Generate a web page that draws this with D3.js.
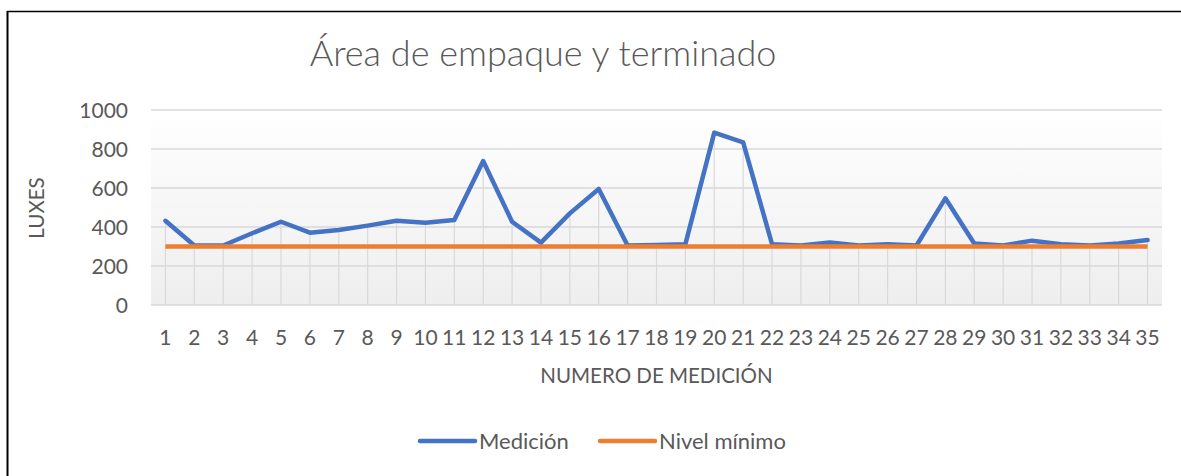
<!DOCTYPE html>
<html>
<head>
<meta charset="utf-8">
<script src="https://cdn.jsdelivr.net/npm/d3@7"></script>
<style>
  html, body { margin: 0; padding: 0; background: #fff; }
  svg { display: block; }
  text { font-family: Lato, "Open Sans", sans-serif; fill: #595959; }
</style>
</head>
<body>
<svg id="chart" width="1181" height="476"></svg>
<script>
const categories = d3.range(1, 36).map(String);
const medicion = [432, 305, 305, 368, 427, 371, 385, 407, 432, 422, 436, 738, 427, 320, 470, 595,
                  305, 308, 312, 884, 834, 312, 305, 320, 305, 312, 305, 547, 315, 305, 330, 312, 305, 315, 333];
const nivelMinimo = categories.map(() => 300);
const yTicks = [0, 200, 400, 600, 800, 1000];
const seriesNames = ["Medición", "Nivel mínimo"];
const seriesColors = ["#4472C4", "#ED7D31"];
const titleText = "Área de empaque y terminado";
const xTitle = "NUMERO DE MEDICIÓN";
const yTitle = "LUXES";

const svg = d3.select("#chart");
const plot = { left: 151, right: 1162, top: 110, bottom: 305 };

// outer border (left and top only visible)
svg.append("line").attr("x1", 7.5).attr("x2", 7.5).attr("y1", 11).attr("y2", 476)
  .attr("stroke", "#000").attr("stroke-width", 2);
svg.append("line").attr("x1", 7).attr("x2", 1181).attr("y1", 11.5).attr("y2", 11.5)
  .attr("stroke", "#000").attr("stroke-width", 1.5);

const x = d3.scaleBand().domain(categories).range([plot.left, plot.right]);
const y = d3.scaleLinear().domain([0, 1000]).range([plot.bottom, plot.top]);
const cx = d => x(d) + x.bandwidth() / 2;

// background gradient
const defs = svg.append("defs");
const grad = defs.append("linearGradient").attr("id", "bg").attr("x1", 0).attr("x2", 0).attr("y1", 0).attr("y2", 1);
grad.append("stop").attr("offset", "0%").attr("stop-color", "#ffffff");
grad.append("stop").attr("offset", "100%").attr("stop-color", "#eeeeee");
svg.append("rect").attr("x", plot.left).attr("y", y(1000)).attr("width", plot.right - plot.left)
  .attr("height", y(0) - y(1000)).attr("fill", "url(#bg)");

// horizontal gridlines
svg.append("g").selectAll("line").data(yTicks).join("line")
  .attr("x1", plot.left).attr("x2", plot.right)
  .attr("y1", d => y(d)).attr("y2", d => y(d))
  .attr("stroke", "#d9d9d9").attr("stroke-width", 1.5);

// drop lines from each measurement down to the axis
svg.append("g").selectAll("line").data(categories).join("line")
  .attr("x1", d => cx(d)).attr("x2", d => cx(d))
  .attr("y1", y(0)).attr("y2", (d, i) => y(Math.max(medicion[i], nivelMinimo[i])))
  .attr("stroke", "#d9d9d9").attr("stroke-width", 1.2);

// y tick labels
svg.append("g").selectAll("text").data(yTicks).join("text")
  .attr("x", 128).attr("y", d => y(d)).attr("dy", "0.36em")
  .attr("text-anchor", "end").attr("font-size", 21).text(d => d);

// x tick labels
svg.append("g").selectAll("text").data(categories).join("text")
  .attr("x", d => cx(d)).attr("y", 345)
  .attr("text-anchor", "middle").attr("font-size", 21).text(d => d);

// axis titles
svg.append("text").attr("x", (plot.left + plot.right) / 2).attr("y", 383)
  .attr("text-anchor", "middle").attr("font-size", 20.5).text(xTitle);
svg.append("text").attr("transform", `translate(44,208) rotate(-90)`)
  .attr("text-anchor", "middle").attr("font-size", 20.5).text(yTitle);

// title
svg.append("text").attr("x", 543).attr("y", 66).attr("text-anchor", "middle")
  .attr("font-size", 36).attr("font-weight", 300).text(titleText);

// lines
const line = d3.line().x((d, i) => cx(categories[i])).y(d => y(d));
svg.append("path").datum(medicion).attr("d", line).attr("fill", "none")
  .attr("stroke", seriesColors[0]).attr("stroke-width", 4.5)
  .attr("stroke-linejoin", "round").attr("stroke-linecap", "round");
svg.append("path").datum(nivelMinimo).attr("d", line).attr("fill", "none")
  .attr("stroke", seriesColors[1]).attr("stroke-width", 4.5).attr("stroke-linecap", "butt");

// legend
const legendX = [420, 600];
const lg = svg.append("g");
seriesNames.forEach((n, i) => {
  lg.append("line").attr("x1", legendX[i]).attr("x2", legendX[i] + 55).attr("y1", 441).attr("y2", 441)
    .attr("stroke", seriesColors[i]).attr("stroke-width", 4.5).attr("stroke-linecap", "round");
  lg.append("text").attr("x", legendX[i] + 59).attr("y", 441).attr("dy", "0.36em")
    .attr("font-size", 22).text(n);
});
</script>
</body>
</html>
